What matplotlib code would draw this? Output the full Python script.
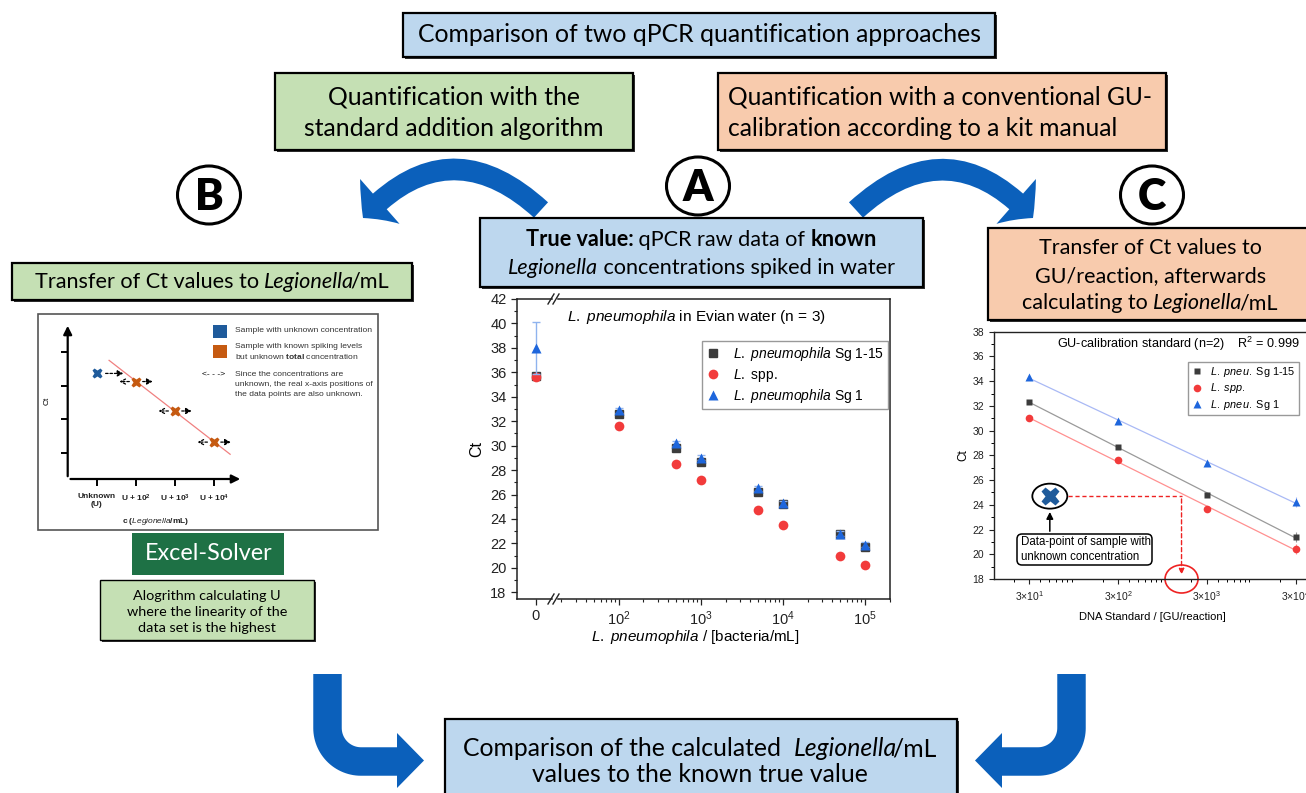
import numpy as np
import matplotlib.pyplot as plt
from matplotlib.patches import Rectangle, Ellipse, FancyArrowPatch, Polygon, FancyBboxPatch
from matplotlib.ticker import FixedLocator, LogLocator, NullFormatter, MultipleLocator
from matplotlib.font_manager import FontProperties, findfont, get_font

plt.rcParams['font.family'] = 'Liberation Sans'
plt.rcParams['mathtext.fontset'] = 'custom'
plt.rcParams['mathtext.rm'] = 'Liberation Sans'
plt.rcParams['mathtext.it'] = 'Liberation Sans:italic'
plt.rcParams['mathtext.bf'] = 'Liberation Sans:bold'

# (A) qPCR raw data, L. pneumophila spiked in Evian water (n = 3)
conc = [0, 1e2, 5e2, 1e3, 5e3, 1e4, 5e4, 1e5]
ct_sg115 = [35.7, 32.6, 29.8, 28.7, 26.2, 25.2, 22.8, 21.7]
ct_spp = [35.6, 31.6, 28.5, 27.2, 24.7, 23.5, 21.0, 20.2]
ct_sg1 = [38.0, 32.9, 30.2, 29.0, 26.5, 25.3, 22.8, 21.9]
err_sg1 = [2.1, 0.2, 0.2, 0.2, 0.2, 0.2, 0.2, 0.2]

# (C) GU-calibration standard (n=2)
gu = [30, 300, 3000, 30000]
cal_sg115 = [32.3, 28.7, 24.8, 21.4]
cal_spp = [31.0, 27.6, 23.7, 20.4]
cal_sg1 = [34.3, 30.8, 27.4, 24.2]
cal_err = [0.1, 0.1, 0.1, 0.4]
unknown_ct = 24.7
unknown_gu = 51
read_gu = 1550

# (B) standard addition sketch
b_labels = ['Unknown\n(U)', 'U + $\\mathbf{10^2}$', 'U + $\\mathbf{10^3}$', 'U + $\\mathbf{10^4}$']
b_ct = [3.36, 3.12, 2.25, 1.33]

W, H = 1306, 793
BLUE_BOX, GREEN_BOX, ORANGE_BOX = '#bdd7ee', '#c5e0b4', '#f8cbad'
ARROW = '#0b60bb'
SQ, RED, TRI = '#3c3c3c', '#f23b3b', '#1e66dc'

fig = plt.figure(figsize=(W / 100, H / 100), dpi=100)
bg = fig.add_axes([0, 0, 1, 1], zorder=0)
bg.set_xlim(0, W)
bg.set_ylim(H, 0)
bg.axis('off')


def frac(x0, y0, x1, y1):
    return [x0 / W, 1 - y1 / H, (x1 - x0) / W, (y1 - y0) / H]


def box(x0, y0, x1, y1, fc, lw=1.6):
    bg.add_patch(Rectangle((x0 + 1.5, y0 + 2), x1 - x0, y1 - y0, fc='#303030', ec='none'))
    bg.add_patch(Rectangle((x0, y0), x1 - x0, y1 - y0, fc=fc, ec='black', lw=lw))


BOXFONT = 'Lato'
STYLES = {'n': {}, 'b': {'weight': 'bold'}, 'i': {'style': 'italic'}}
TEXTKW = {'n': {}, 'b': {'fontweight': 'bold'}, 'i': {'fontstyle': 'italic'}}


def advance(s, size, st):
    # pen advance of a string in pixels (figure dpi 100)
    f = get_font(findfont(FontProperties(family=BOXFONT, **STYLES[st])))
    f.set_size(size, 100)
    return sum(f.load_char(ord(c)).linearHoriAdvance for c in s) / 65536


def rich(x, y, parts, size, ha='center', color='black'):
    widths = [advance(s, size, st) for s, st in parts]
    for i in range(len(parts) - 1):
        # tighten a slanted run against a following slash
        if parts[i][1] == 'i' and parts[i + 1][0].startswith('/'):
            widths[i] -= 0.16 * size * 100 / 72
    x0 = x - sum(widths) / 2 if ha == 'center' else x
    for (s, st), w in zip(parts, widths):
        bg.text(x0, y, s, fontsize=size, family=BOXFONT, color=color,
                ha='left', va='center', **TEXTKW[st])
        x0 += w


# header boxes
box(403, 13, 995, 57, BLUE_BOX)
rich(699, 35, [('Comparison of two qPCR quantification approaches', 'n')], 17.8)

box(275, 73, 633, 150, GREEN_BOX)
rich(454, 97, [('Quantification with the', 'n')], 17.8)
rich(454, 128, [('standard addition algorithm', 'n')], 17.8)

box(718, 73, 1166, 150, ORANGE_BOX)
rich(728, 97, [('Quantification with a conventional GU-', 'n')], 17.7, ha='left')
rich(728, 128, [('calibration according to a kit manual', 'n')], 17.7, ha='left')

# circled panel letters
for cx, cy, letter in [(209, 195, 'B'), (698, 186, 'A'), (1152, 195, 'C')]:
    bg.add_patch(Ellipse((cx, cy), 63, 58, fc='white', ec='black', lw=2.2))
    bg.text(cx, cy + 2, letter, fontsize=31, fontweight='heavy', family=BOXFONT,
            ha='center', va='center')

# curved arrows from A to B and C
for pa, pb, rad in [((541, 210), (363, 218), 0.5), ((856, 210), (1033, 218), -0.5)]:
    bg.add_patch(FancyArrowPatch(pa, pb, connectionstyle=f'arc3,rad={rad}',
                                 arrowstyle='simple,head_length=17,head_width=43,tail_width=15',
                                 mutation_scale=1, color=ARROW, shrinkA=0, shrinkB=0, lw=0))

# panel boxes
box(480, 218, 923, 287, BLUE_BOX)
rich(701, 240, [('True value:', 'b'), (' qPCR raw data of ', 'n'), ('known', 'b')], 15.6)
rich(701, 268, [('Legionella', 'i'), (' concentrations spiked in water', 'n')], 15.6)

box(988, 228, 1312, 320, ORANGE_BOX)
rich(1150, 248, [('Transfer of Ct values to', 'n')], 15.5)
rich(1150, 276, [('GU/reaction, afterwards', 'n')], 15.5)
rich(1150, 303, [('calculating to ', 'n'), ('Legionella', 'i'), ('/mL', 'n')], 15.5)

box(12, 263, 412, 300, GREEN_BOX)
rich(212, 282, [('Transfer of Ct values to ', 'n'), ('Legionella', 'i'), ('/mL', 'n')], 15.6)

bg.add_patch(Rectangle((132, 533), 152, 42, fc='#1e7145', ec='none'))
rich(208, 554, [('Excel-Solver', 'n')], 16.8, color='white')

box(100, 580, 314, 640, GREEN_BOX, lw=1.0)
rich(207, 596, [('Alogrithm calculating U', 'n')], 10.4)
rich(207, 612, [('where the linearity of the', 'n')], 10.4)
rich(207, 628, [('data set is the highest', 'n')], 10.4)

box(445, 719, 957, 800, BLUE_BOX)
rich(700, 749, [('Comparison of the calculated  ', 'n'), ('Legionella', 'i'), ('/mL', 'n')], 17.8)
rich(700, 775, [('values to the known true value', 'n')], 17.8)

# bent arrows into the final comparison
for sgn in (1, -1):
    def mx(x):
        return x if sgn == 1 else 1399 - x
    t = np.linspace(0, np.pi / 2, 30)
    xs = np.concatenate([[327.5], 361 - 33.5 * np.cos(t), [398]])
    ys = np.concatenate([[674], 728 + 33.5 * np.sin(t), [761.5]])
    bg.plot([mx(v) for v in xs], ys, color=ARROW, lw=20.5, solid_capstyle='butt',
            solid_joinstyle='round')
    bg.add_patch(Polygon([(mx(397), 733), (mx(424), 760.5), (mx(397), 788)],
                         fc=ARROW, ec='none'))

# ---- panel B: standard addition sketch ----
bg.add_patch(Rectangle((38, 314), 340, 216, fc='white', ec='#555555', lw=1.2))
axB = fig.add_axes(frac(67.7, 323, 243, 479), zorder=2)
axB.patch.set_alpha(0)
axB.set_xlim(-0.75, 3.74)
axB.set_ylim(0.24, 4.85)
for s in axB.spines.values():
    s.set_visible(False)
axB.annotate('', xy=(0, 1), xytext=(0, 0), xycoords='axes fraction',
             arrowprops=dict(arrowstyle='-|>,head_length=0.5,head_width=0.25', lw=1.6, color='black'))
axB.annotate('', xy=(1, 0), xytext=(0, 0), xycoords='axes fraction',
             arrowprops=dict(arrowstyle='-|>,head_length=0.5,head_width=0.25', lw=1.6, color='black'))
axB.set_xticks(range(4))
axB.set_xticklabels(b_labels, fontsize=6, fontweight='bold', color='#222')
axB.set_yticks([1, 2, 3, 4])
axB.set_yticklabels([])
axB.tick_params(length=5, width=1.4, pad=5)
axB.set_ylabel('Ct', fontsize=6, labelpad=2)
axB.set_xlabel('c ($\\mathbf{\\mathit{Legionella}}$/mL)', fontsize=6, fontweight='bold', labelpad=6,
               color='#222')
bx = np.arange(1, 4)
k, c0 = np.polyfit(bx, b_ct[1:], 1)
lx = np.array([0.31, 3.41])
axB.plot(lx, k * lx + c0, color='#f08080', lw=0.9, zorder=1)
axB.plot(0, b_ct[0], marker='X', ms=7.5, color='#1f5b9b', mec='none', zorder=3)
axB.plot(bx, b_ct[1:], 'X', ms=7.5, color='#c55a11', mec='none', zorder=3)
dash = dict(arrowstyle='-|>,head_length=0.35,head_width=0.18', lw=0.9, color='black', ls=(0, (2, 1.5)))
axB.annotate('', xy=(0.75, b_ct[0]), xytext=(0.15, b_ct[0]), arrowprops=dash)
for xi, yi in zip(bx, b_ct[1:]):
    axB.annotate('', xy=(xi + 0.5, yi), xytext=(xi + 0.1, yi), arrowprops=dash)
    axB.annotate('', xy=(xi - 0.5, yi), xytext=(xi - 0.1, yi),
                 arrowprops=dict(dash, arrowstyle='->,head_length=0.35,head_width=0.18'))

bg.add_patch(Rectangle((213, 325), 14, 13, fc='#1f5b9b', ec='none'))
bg.add_patch(Rectangle((213, 345), 14, 13, fc='#c55a11', ec='none'))
bg.text(235, 331, 'Sample with unknown concentration', fontsize=6.1, color='#333', va='center')
bg.text(235, 346.5, 'Sample with known spiking levels', fontsize=6.1, color='#333', va='center')
bg.text(235, 356.5, 'but unknown $\\mathbf{total}$ concentration', fontsize=6.1, color='#333', va='center')
bg.text(214, 375, '<- - ->', fontsize=6.1, color='black', va='center', ha='center')
for i, line in enumerate(['Since the concentrations are',
                          'unknown, the real x-axis positions of',
                          'the data points are also unknown.']):
    bg.text(235, 374 + 10.5 * i, line, fontsize=6.1, color='#333', va='center')

# ---- panel A: Ct vs. spiked concentration with broken x axis ----
axA0 = fig.add_axes(frac(517, 299, 552, 599), zorder=2)
axA1 = fig.add_axes(frac(558, 299, 890, 599), sharey=axA0, zorder=2)
for ax, sl in ((axA0, slice(0, 1)), (axA1, slice(1, None))):
    ax.patch.set_alpha(0)
    ax.plot(conc[sl], ct_sg115[sl], 's', ms=5.5, color=SQ, zorder=2,
            label='$\\mathit{L.\\ pneumophila}$ Sg 1-15')
    ax.plot(conc[sl], ct_spp[sl], 'o', ms=7, color=RED, mec='none', zorder=3, label='$\\mathit{L.}$ spp.')
    ax.errorbar(conc[sl], ct_sg1[sl], yerr=err_sg1[sl], fmt='none', ecolor='#8fb3ee',
                elinewidth=1, capsize=3, zorder=3.5)
    ax.plot(conc[sl], ct_sg1[sl], '^', ms=7, color=TRI, mec='none', zorder=4,
            label='$\\mathit{L.\\ pneumophila}$ Sg 1')
    ax.tick_params(labelsize=10.5, length=4, width=0.9, colors='#222')
    ax.tick_params(which='minor', length=2.5, width=0.8, colors='#222')
    for s in ax.spines.values():
        s.set_linewidth(1.1)
        s.set_color('#222')

axA0.set_xlim(-1.9, 1.6)
axA0.set_ylim(17.45, 42)
axA0.set_xticks([0])
axA0.set_xticklabels(['0'])
axA0.yaxis.set_major_locator(MultipleLocator(2))
axA0.yaxis.set_minor_locator(MultipleLocator(1))
axA0.spines['right'].set_visible(False)
axA0.set_ylabel('Ct', fontsize=11.5, labelpad=4)

axA1.set_xscale('log')
axA1.set_xlim(18.2, 2.02e5)
axA1.xaxis.set_major_locator(FixedLocator([1e2, 1e3, 1e4, 1e5]))
axA1.set_xticklabels(['$10^2$', '$10^3$', '$10^4$', '$10^5$'])
axA1.xaxis.set_minor_locator(LogLocator(subs=np.arange(2, 10)))
axA1.xaxis.set_minor_formatter(NullFormatter())
axA1.tick_params(axis='y', which='both', left=False, labelleft=False)
axA1.spines['left'].set_visible(False)
for x0 in (551, 556):
    for yb in (299, 599):
        bg.plot([x0 - 3, x0 + 3], [yb + 5, yb - 5], color='#222', lw=1.0, zorder=5)

bg.text(567, 317, '$\\mathit{L.\\ pneumophila}$ in Evian water (n = 3)', fontsize=11.1, va='center')
bg.text(695, 637, '$\\mathit{L.\\ pneumophila}$ / [bacteria/mL]', fontsize=11, va='center', ha='center')
axA1.legend(loc='upper left', bbox_to_anchor=(695 / W, 1 - 334 / H), bbox_transform=fig.transFigure,
            fontsize=10, frameon=True, fancybox=False, edgecolor='#999', borderpad=0.3,
            handletextpad=0.9, labelspacing=0.25, handlelength=1.0, framealpha=1)

# ---- panel C: GU calibration ----
axC = fig.add_axes(frac(994, 331.7, 1310, 579), zorder=2)
axC.patch.set_alpha(0)
axC.set_xscale('log')
axC.set_xlim(12.0, 43300)
axC.set_ylim(18, 38)
lx = np.log10([gu[0], gu[-1]])
for ys, col, lcol, mk, ms, lab in [
        (cal_sg115, SQ, '#9a9a9a', 's', 4.5, '$\\mathit{L.\\ pneu.}$ Sg 1-15'),
        (cal_spp, RED, '#ff9090', 'o', 5.5, '$\\mathit{L.\\ spp.}$'),
        (cal_sg1, TRI, '#a9b9f5', '^', 5.5, '$\\mathit{L.\\ pneu.}$ Sg 1')]:
    k, c0 = np.polyfit(np.log10(gu), ys, 1)
    axC.plot(10 ** lx, k * lx + c0, color=lcol, lw=0.9, zorder=1)
    axC.errorbar(gu, ys, yerr=cal_err, fmt='none', ecolor=lcol, elinewidth=0.8, zorder=2)
    axC.plot(gu, ys, mk, ms=ms, color=col, mec='none', zorder=3, label=lab)
axC.yaxis.set_major_locator(MultipleLocator(2))
axC.yaxis.set_minor_locator(MultipleLocator(1))
axC.xaxis.set_major_locator(FixedLocator(gu))
axC.set_xticklabels(['3$\\times$10$^{%d}$' % e for e in range(1, 5)])
axC.xaxis.set_minor_locator(LogLocator(subs=np.arange(2, 10)))
axC.xaxis.set_minor_formatter(NullFormatter())
axC.tick_params(labelsize=7.5, length=3.5, width=0.8, colors='#222')
axC.tick_params(axis='x', pad=4)
axC.tick_params(which='minor', length=2, width=0.7)
for s in axC.spines.values():
    s.set_linewidth(1.0)
    s.set_color('#222')
axC.set_ylabel('Ct', fontsize=8.5, labelpad=2)
axC.set_xlabel('DNA Standard / [GU/reaction]', fontsize=8, labelpad=6)
bg.text(1057, 344, 'GU-calibration standard (n=2)    R$^2$ = 0.999', fontsize=9.1, va='center')
axC.legend(loc='upper left', bbox_to_anchor=(1183 / W, 1 - 356.5 / H), bbox_transform=fig.transFigure,
           fontsize=7.8, frameon=True, fancybox=False, edgecolor='#999', borderpad=0.3,
           handletextpad=0.7, labelspacing=0.2, handlelength=1.0, framealpha=1)

# unknown sample read-off
axC.plot(unknown_gu, unknown_ct, marker='X', ms=13, color='#1f5b9b', mec='none', zorder=4)
ux, uy = axC.transData.transform((unknown_gu, unknown_ct))
uy = H - uy
bg.add_patch(Ellipse((ux, uy), 35, 25, fc='white', ec='black', lw=1.3, zorder=3))
hx = unknown_gu * 10 ** (18 / 88.8)
axC.plot([hx, read_gu], [unknown_ct, unknown_ct], color='#ee2222', lw=1.0, ls=(0, (3, 2)), zorder=2)
axC.annotate('', xy=(read_gu, 18.1), xytext=(read_gu, unknown_ct),
             arrowprops=dict(arrowstyle='-|>,head_length=0.35,head_width=0.15', color='#ee2222',
                             lw=1.0, ls=(0, (3, 2))))
rx, ry = axC.transData.transform((read_gu, 18))
bg.add_patch(Ellipse((rx, H - ry), 33, 28, fc='none', ec='#ee2222', lw=1.2, zorder=5))
bg.add_patch(FancyBboxPatch((1017, 534), 135, 31, boxstyle='round,pad=0,rounding_size=5',
                            fc='white', ec='black', lw=1.1))
bg.text(1021, 541.5, 'Data-point of sample with', fontsize=8.3, va='center')
bg.text(1021, 556.5, 'unknown concentration', fontsize=8.3, va='center')
bg.annotate('', xy=(ux, uy + 13), xytext=(ux, 534),
            arrowprops=dict(arrowstyle='-|>,head_length=0.4,head_width=0.2', color='black', lw=1.1))

fig.savefig('out.png', dpi=100)
